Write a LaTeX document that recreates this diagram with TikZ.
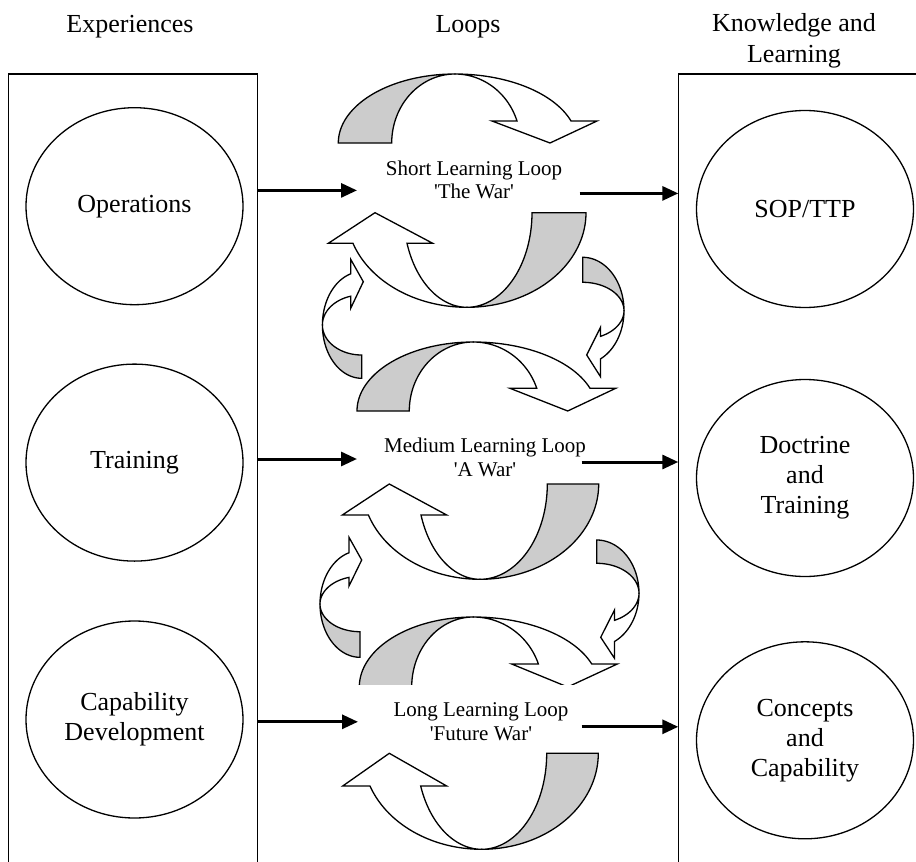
\documentclass[tikz,border=0pt]{standalone}
\usepackage{fontspec}
\setmainfont{Liberation Serif}
\usetikzlibrary{arrows.meta,shapes.geometric}
\definecolor{ribbongray}{RGB}{204,204,204}

\newcommand{\SetRib}[8]{\def\Rcx{#1}\def\Rcy{#2}\def\Rry{#3}\def\Rgo{#4}\def\Rgi{#5}\def\Rwo{#6}\def\Rwi{#7}\def\Ryb{#8}}
\newcommand{\SetHead}[3]{\def\Rxl{#1}\def\Rxr{#2}\def\Rxt{#3}}
\newcommand{\SetSide}[5]{\def\Scx{#1}\def\Scy{#2}\def\Srx{#3}\def\Sro{#4}\def\Sri{#5}}
\newcommand{\SetSideHead}[5]{\def\Sxb{#1}\def\Syu{#2}\def\Syl{#3}\def\Sxt{#4}\def\Syt{#5}}

% big ribbon, gray on the left, arrow on the right pointing down
\newcommand{\RibTop}{%
  \pgfmathsetmacro\Rte{360+asin((\Ryb-\Rcy)/\Rry)}%
  \filldraw[ribbonline,fill=ribbongray]
    plot[domain=180:270] ({\Rcx+\Rgo*cos(\x)},{\Rcy+\Rry*sin(\x)})
    -- plot[domain=270:180] ({\Rcx+\Rgi*cos(\x)},{\Rcy+\Rry*sin(\x)}) -- cycle;
  \filldraw[ribbonline,fill=white]
    plot[domain=270:\Rte] ({\Rcx+\Rwo*cos(\x)},{\Rcy+\Rry*sin(\x)})
    -- (\Rxr,\Ryb) -- (\Rxt,\Rcy) -- (\Rxl,\Ryb)
    -- plot[domain=\Rte:270] ({\Rcx+\Rwi*cos(\x)},{\Rcy+\Rry*sin(\x)}) -- cycle;
}
% big ribbon, gray on the right, arrow on the left pointing up
\newcommand{\RibBot}{%
  \pgfmathsetmacro\Rte{180-asin((\Ryb-\Rcy)/\Rry)}%
  \filldraw[ribbonline,fill=ribbongray]
    plot[domain=0:90] ({\Rcx+\Rgo*cos(\x)},{\Rcy+\Rry*sin(\x)})
    -- plot[domain=90:0] ({\Rcx+\Rgi*cos(\x)},{\Rcy+\Rry*sin(\x)}) -- cycle;
  \filldraw[ribbonline,fill=white]
    plot[domain=90:\Rte] ({\Rcx+\Rwo*cos(\x)},{\Rcy+\Rry*sin(\x)})
    -- (\Rxl,\Ryb) -- (\Rxt,\Rcy) -- (\Rxr,\Ryb)
    -- plot[domain=\Rte:90] ({\Rcx+\Rwi*cos(\x)},{\Rcy+\Rry*sin(\x)}) -- cycle;
}
% small side ribbon, bulging left, arrow at top pointing right
\newcommand{\SideL}{%
  \pgfmathsetmacro\Rte{360-acos((\Sxb-\Scx)/\Srx)}%
  \filldraw[ribbonline,fill=ribbongray]
    plot[domain=90:180] ({\Scx+\Srx*cos(\x)},{\Scy+\Sro*sin(\x)})
    -- plot[domain=180:90] ({\Scx+\Srx*cos(\x)},{\Scy+\Sri*sin(\x)}) -- cycle;
  \filldraw[ribbonline,fill=white]
    plot[domain=180:\Rte] ({\Scx+\Srx*cos(\x)},{\Scy+\Sro*sin(\x)})
    -- (\Sxb,\Syu) -- (\Sxt,\Syt) -- (\Sxb,\Syl)
    -- plot[domain=\Rte:180] ({\Scx+\Srx*cos(\x)},{\Scy+\Sri*sin(\x)}) -- cycle;
}
% small side ribbon, bulging right, arrow at bottom pointing left
\newcommand{\SideR}{%
  \pgfmathsetmacro\Rte{acos((\Sxb-\Scx)/\Srx)}%
  \filldraw[ribbonline,fill=ribbongray]
    plot[domain=270:360] ({\Scx+\Srx*cos(\x)},{\Scy+\Sro*sin(\x)})
    -- plot[domain=360:270] ({\Scx+\Srx*cos(\x)},{\Scy+\Sri*sin(\x)}) -- cycle;
  \filldraw[ribbonline,fill=white]
    plot[domain=0:\Rte] ({\Scx+\Srx*cos(\x)},{\Scy+\Sro*sin(\x)})
    -- (\Sxb,\Syl) -- (\Sxt,\Syt) -- (\Sxb,\Syu)
    -- plot[domain=\Rte:0] ({\Scx+\Srx*cos(\x)},{\Scy+\Sri*sin(\x)}) -- cycle;
}

\tikzset{
  ribbonline/.style={line width=1.3pt,samples=60},
  boxline/.style={line width=1.4pt},
  oval/.style={ellipse,draw,line width=1.3pt,minimum width=217pt,minimum height=197pt,
    inner sep=0pt,align=center,font=\fontsize{26}{30}\selectfont},
  lbl/.style={align=center,inner sep=0pt,font=\fontsize{21}{23.5}\selectfont},
  hdr/.style={align=center,inner sep=0pt,font=\fontsize{26}{31}\selectfont},
  harrow/.style={line width=3pt,-{Triangle[length=16pt,width=14pt]}},
  frame/.style={draw=none,inner sep=0pt,outer sep=0pt}
}

\begin{document}
\begin{tikzpicture}[x=1pt,y=-1pt]
\useasboundingbox (0,0) rectangle (916,862);

% headers
\node[hdr] (hexp) at (130,27) {Experiences};
\node[hdr] (hloop) at (468,27) {Loops};
\node[hdr] (hkl) at (794,41) {Knowledge and\\Learning};

% column frames
\node[frame,minimum width=249pt,minimum height=788pt] (exp) at (132.8,468) {};
\draw[boxline] (exp.south west) -- (exp.north west) -- (exp.north east) -- (exp.south east);
\node[frame,minimum width=240pt,minimum height=788pt] (kl) at (798.3,468) {};
\draw[boxline] (kl.south west) -- (kl.north west) -- (kl.north east);

% ellipses
\node[oval] (ops) at (134.5,206.2) {Operations};
\node[oval] (trn) at (134.5,462.6) {Training};
\node[oval] (cap) at (134.5,719.5) {Capability\\Development};
\node[oval] (sop) at (805,209) {SOP/TTP};
\node[oval] (doc) at (805,478) {Doctrine\\and\\Training};
\node[oval] (con) at (805,740.3) {Concepts\\and\\Capability};

% upper ribbons of each loop
\SetRib{455}{143}{69}{116.7}{63.3}{122.4}{65.4}{121}\SetHead{492}{597}{550}\RibTop
\SetRib{473.3}{411}{69}{116.3}{64}{123.6}{67.2}{388.3}\SetHead{510}{615.7}{567.7}\RibTop
\SetRib{473.3}{687}{70}{114}{61.6}{125.4}{68.9}{664}\SetHead{511.7}{617.3}{567.7}\RibTop

% side ribbons between loops
\SetSide{361.7}{325}{39.3}{53.3}{30}\SetSideHead{350.7}{259.3}{308.3}{363.3}{281.7}\SideL
\SetSide{360}{604}{40}{53.3}{27.7}\SetSideHead{349}{537.3}{586}{361.7}{560}\SideL
\SetSide{582.7}{310.7}{41.3}{53.4}{28.4}\SetSideHead{600.5}{327.3}{376.7}{586.7}{355}\SideR
\SetSide{596.7}{593.2}{42.3}{53.2}{29.9}\SetSideHead{614.5}{610}{658.3}{600.7}{637.3}\SideR

% white ground behind the long loop label
\fill[white] (350,685) rectangle (625,750);

% lower ribbons of each loop
\SetRib{467}{212.7}{94.6}{119}{65}{120.5}{63.4}{243.3}\SetHead{328.3}{432.7}{375}\RibBot
\SetRib{480}{484}{95.3}{118.7}{67.3}{118}{62.4}{515}\SetHead{342.3}{446.7}{389.3}\RibBot
\SetRib{481.7}{753.3}{96}{116.6}{65}{118.8}{64.9}{786}\SetHead{342.7}{446.7}{389.3}\RibBot

% loop labels
\node[lbl] (shortl) at (474,180) {Short Learning Loop\\\textquotesingle The War\textquotesingle};
\node[lbl] (medl) at (485,457.5) {Medium Learning Loop\\\textquotesingle A War\textquotesingle};
\node[lbl] (longl) at (481,721.5) {Long Learning Loop\\\textquotesingle Future War\textquotesingle};

% horizontal arrows
\coordinate (s1) at (357,190.4);
\coordinate (s2) at (357,459);
\coordinate (s3) at (358,721.8);
\coordinate (t1) at (579.5,193.4);
\coordinate (t2) at (581.7,462);
\coordinate (t3) at (581.7,726.8);
\draw[harrow] (exp.east |- s1) -- (s1);
\draw[harrow] (exp.east |- s2) -- (s2);
\draw[harrow] (exp.east |- s3) -- (s3);
\draw[harrow] (t1) -- (t1 -| kl.west);
\draw[harrow] (t2) -- (t2 -| kl.west);
\draw[harrow] (t3) -- (t3 -| kl.west);
\end{tikzpicture}
\end{document}
